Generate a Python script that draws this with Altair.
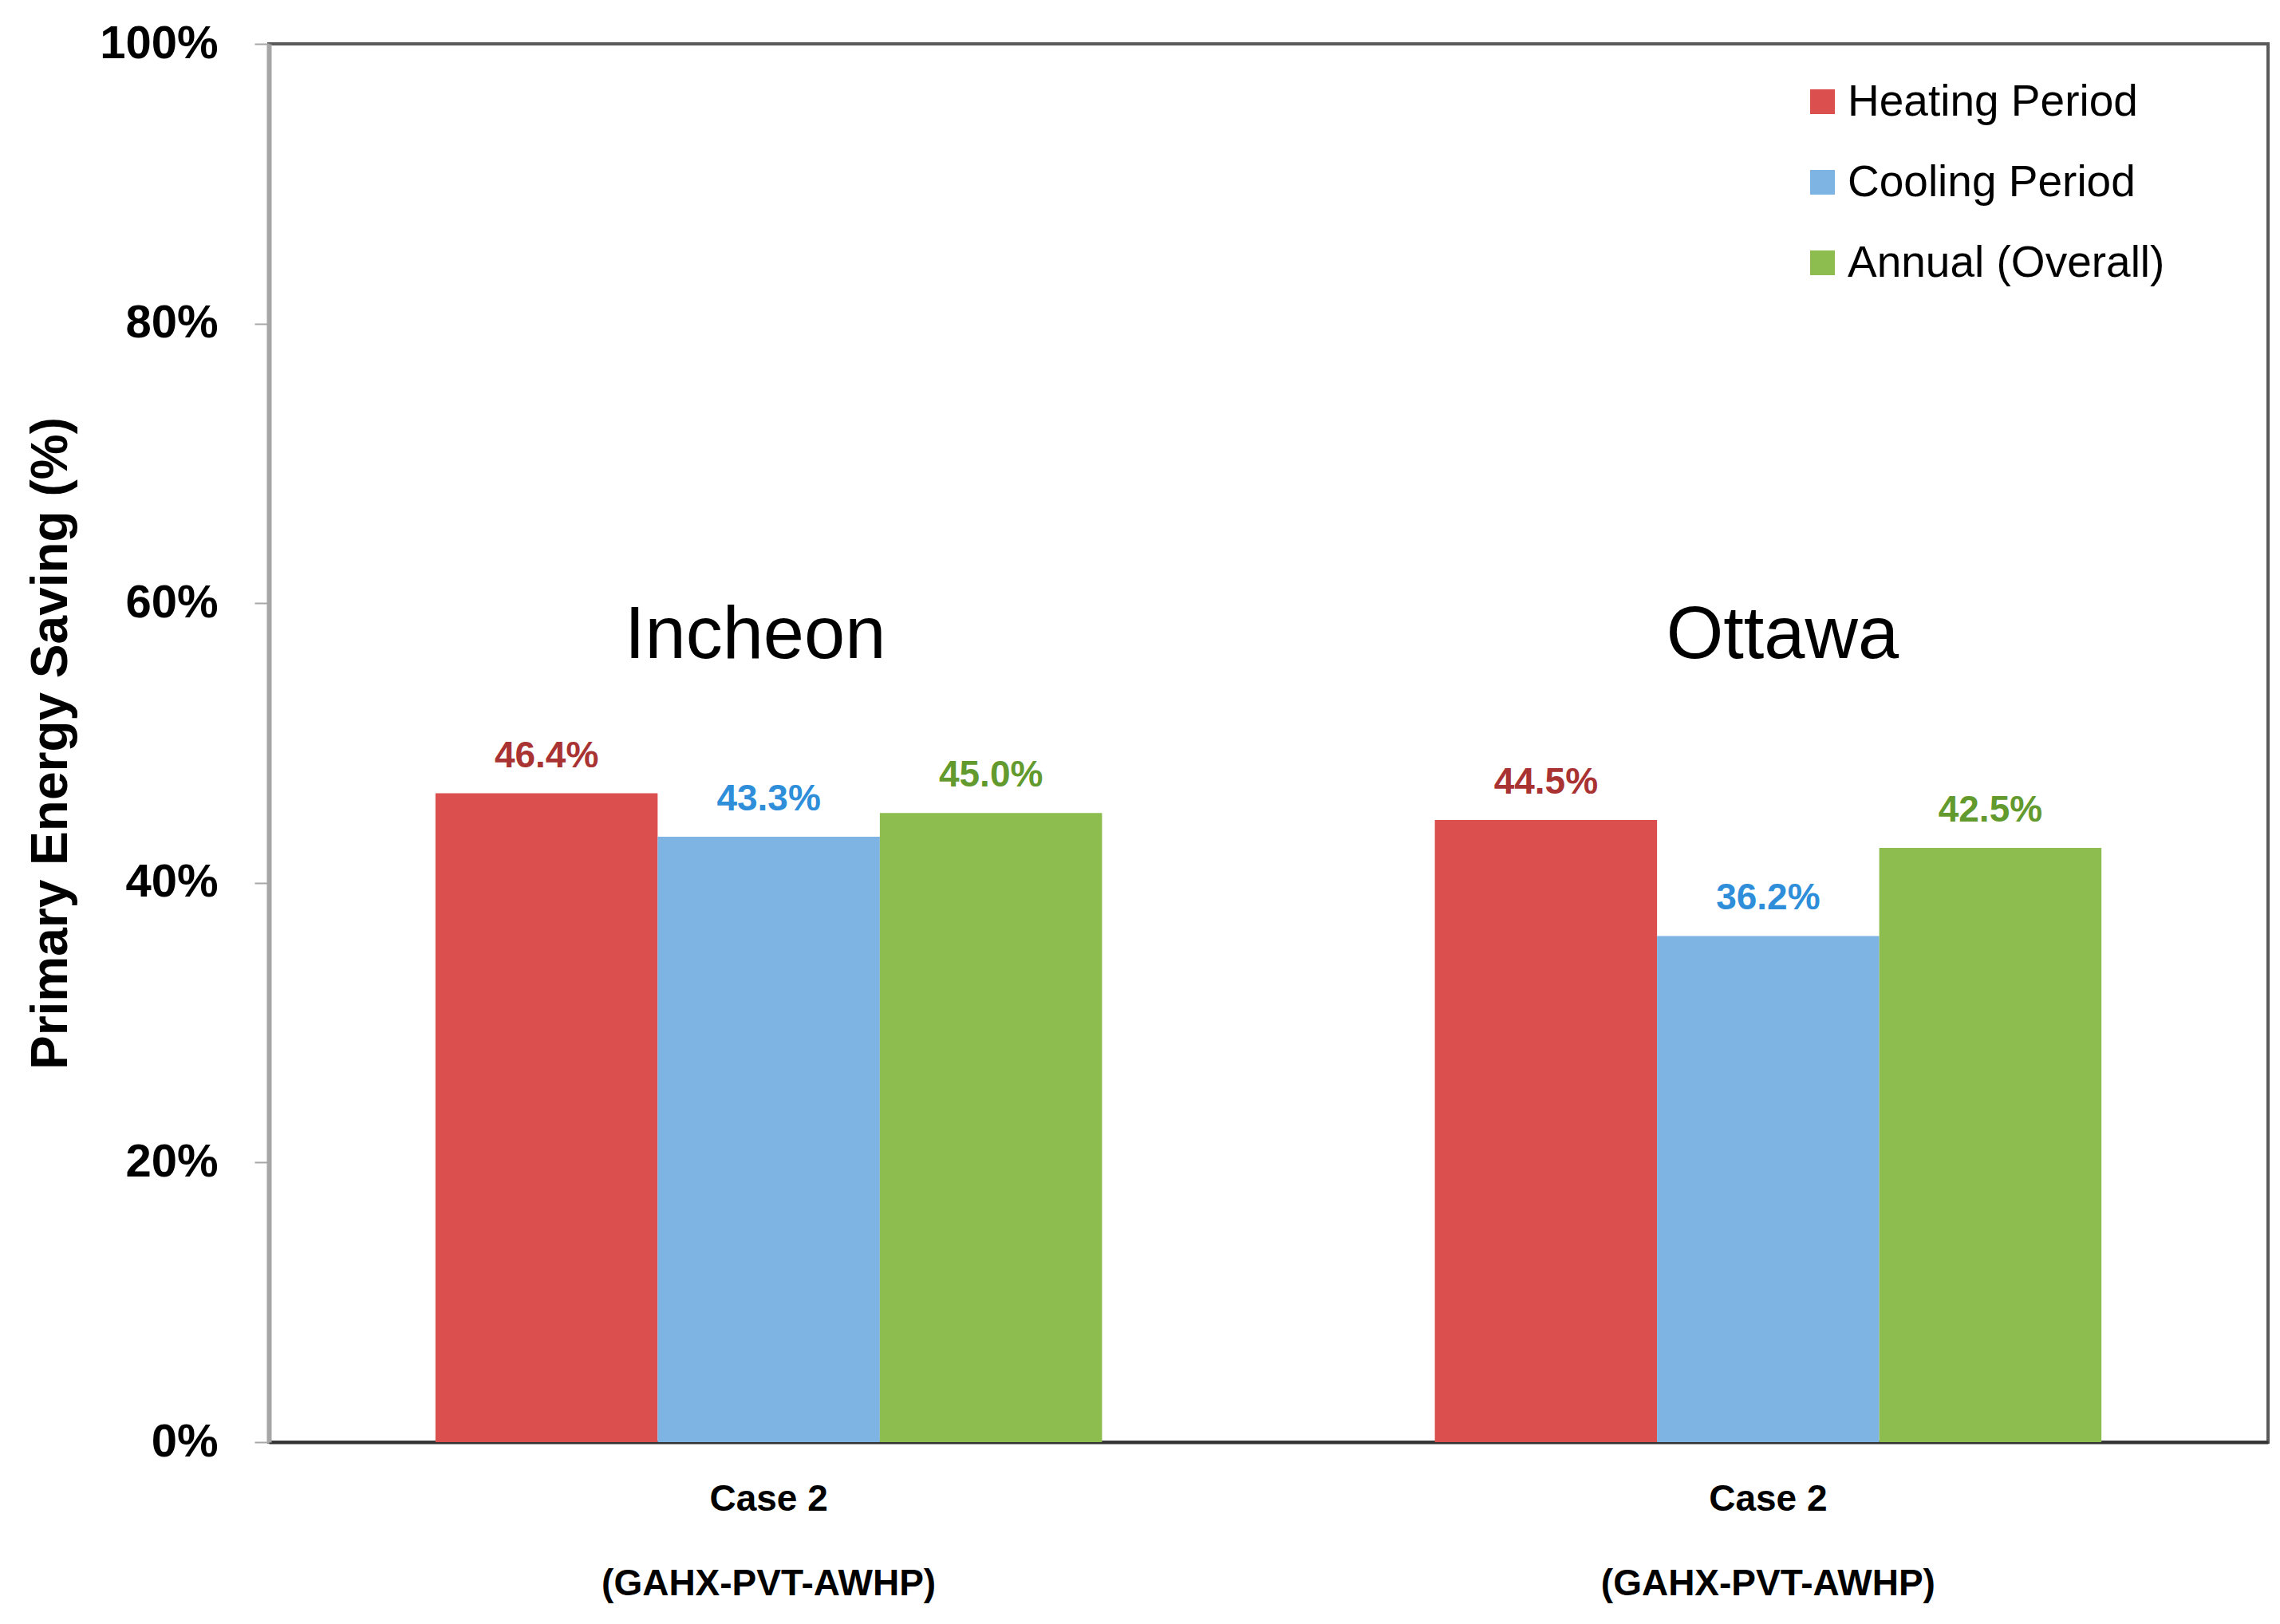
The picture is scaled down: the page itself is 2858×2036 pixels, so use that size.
import altair as alt
import pandas as pd

cities = ["Incheon", "Ottawa"]
series = ["Heating Period", "Cooling Period", "Annual (Overall)"]
heating = [46.4, 44.5]
cooling = [43.3, 36.2]
annual = [45.0, 42.5]
case_label = ["Case 2", "(GAHX-PVT-AWHP)"]
y_ticks = [0, 20, 40, 60, 80, 100]

bar_colors = ["#DB504E", "#7EB4E4", "#8DBD4F"]
text_colors = ["#A93232", "#2E8ED9", "#639A2E"]

rows = []
for i, c in enumerate(cities):
    for s, vals in zip(series, [heating, cooling, annual]):
        rows.append({"city": c, "series": s, "value": vals[i]})
df = pd.DataFrame(rows)

W, H = 2506, 1753
FONT = "Liberation Sans"

x = alt.X("city:N", sort=cities,
          scale=alt.Scale(paddingInner=0.333, paddingOuter=0.1667),
          axis=alt.Axis(title=None, ticks=False, domainColor="#333333", domainWidth=4,
                        labelExpr="['" + case_label[0] + "', '" + case_label[1] + "']",
                        labelFont=FONT, labelFontSize=46, labelFontWeight="bold",
                        labelColor="#000000", labelBaseline="top", labelPadding=49,
                        labelLineHeight=106, labelAngle=0, labelLimit=0))
xo = alt.XOffset("series:N", sort=series, scale=alt.Scale(paddingInner=0, paddingOuter=0))
y = alt.Y("value:Q", scale=alt.Scale(domain=[0, 100]),
          axis=alt.Axis(title="Primary Energy Saving (%)", values=y_ticks, grid=False,
                        labelExpr="datum.value + '%'", labelFont=FONT, labelFontSize=58,
                        labelFontWeight="bold", labelColor="#000000", labelPadding=46,
                        tickSize=18, tickColor="#A6A6A6", tickWidth=2,
                        domainColor="#A6A6A6", domainWidth=6,
                        titleFont=FONT, titleFontSize=64, titleFontWeight="bold",
                        titleColor="#000000", titleX=-273, titleY=H / 2,
                        titleBaseline="middle", titleAngle=270))

bars = alt.Chart(df).mark_bar().encode(
    x=x, xOffset=xo, y=y,
    color=alt.Color("series:N", sort=series,
                    scale=alt.Scale(domain=series, range=bar_colors),
                    legend=alt.Legend(title=None, orient="none", legendX=1920, legendY=45,
                                      symbolType="square", symbolSize=961,
                                      symbolStrokeWidth=0, labelFont=FONT,
                                      labelFontSize=55, labelColor="#000000",
                                      labelOffset=4, rowPadding=45, labelLimit=0)),
)

labels = alt.Chart(df).transform_calculate(
    label="format(datum.value, '.1f') + '%'"
).mark_text(font=FONT, fontSize=46, fontWeight="bold", baseline="alphabetic", dy=-33).encode(
    x=alt.X("city:N", sort=cities), xOffset=alt.XOffset("series:N", sort=series), y="value:Q",
    text="label:N",
    fill=alt.Fill("series:N", sort=series,
                  scale=alt.Scale(domain=series, range=text_colors), legend=None),
)

city_layers = []
for c, dx in zip(cities, [-17, 18]):
    city_layers.append(
        alt.Chart(pd.DataFrame({"city": [c]})).mark_text(
            font=FONT, fontSize=92, baseline="alphabetic", color="#000000", dx=dx
        ).encode(x=alt.X("city:N", sort=cities), y=alt.datum(56.1), text="city:N")
    )

chart = alt.layer(bars, labels, *city_layers).properties(
    width=W, height=H,
    background="white",
    autosize=alt.AutoSizeParams(type="none"),
    padding={"left": 329, "top": 47, "right": 7, "bottom": 220},
).configure_view(stroke="#5A5A5A", strokeWidth=4)

chart.save("out.html", embed_options={"renderer": "svg", "actions": False})
